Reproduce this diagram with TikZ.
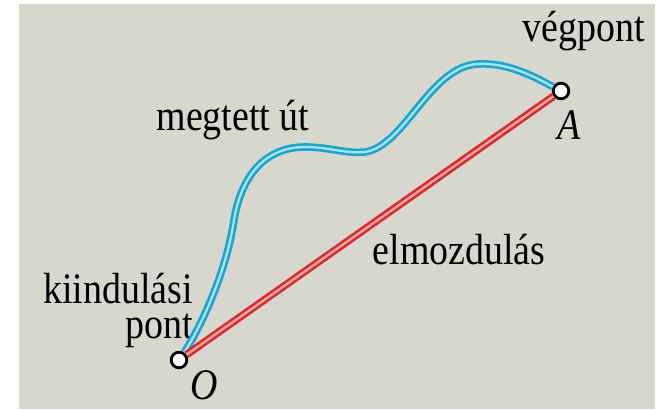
\documentclass[tikz,border=0pt]{standalone}
\usepackage{fontspec}
\setmainfont[FakeStretch=0.87]{Liberation Serif}
\usetikzlibrary{
    arrows.meta,
    positioning
}
\definecolor{hatter}{RGB}{216,215,205}
\definecolor{utkek}{RGB}{30,165,205}
\definecolor{utvilagos}{RGB}{170,228,244}
\definecolor{elmpiros}{RGB}{214,44,56}
\definecolor{elmrozsa}{RGB}{246,170,152}
\tikzset{
    pontkor/.style={
        circle,
        draw=black,
        line width=2pt,
        fill=white,
        inner sep=0pt,
        minimum size=0.39cm
    },
    felirat/.style={
        font=\fontsize{31}{25}\selectfont,
        inner sep=0pt
    },
    betu/.style={
        font=\fontsize{31}{31}\selectfont\itshape,
        inner sep=0pt
    }
}

\begin{document}
\begin{tikzpicture}[
    x=0.025cm,
    y=-0.025cm,
    utvonal/.style={
        draw=utkek,
        double=utvilagos,
        line width=1.9pt,
        double distance=1.6pt
    },
    elmozdulas/.style={
        draw=elmpiros,
        double=elmrozsa,
        line width=1.9pt,
        double distance=1.6pt
    }
]

\useasboundingbox (0,0) rectangle (662,411);
\fill[hatter] (19,4) rectangle (655,409);

\node[pontkor] (O) at (179,360) {};
\node[pontkor] (A) at (561,91) {};

\node[felirat, anchor=base] (vegpont) at (584,42) {végpont};
\node[felirat, anchor=base] (megtett) at (233,131) {megtett út};
\node[felirat, anchor=base] (elmozd) at (459,265) {elmozdulás};
\node[felirat, anchor=base east, align=right] (kiind) at (193,339) {kiindulási\\pont};
\node[betu, anchor=base] (Ocimke) at (204,399) {O};
\node[betu, anchor=base] (Acimke) at (569,140) {A};

\draw[utvonal] (O) .. controls (198,332) and (226,275) .. (234,220)
    .. controls (242,172) and (268,147) .. (305,147)
    .. controls (330,147) and (345,154) .. (365,152)
    .. controls (405,146) and (430,66) .. (478,64)
    .. controls (510,62) and (540,80) .. (A);
\draw[elmozdulas] (O) -- (A);

\end{tikzpicture}
\end{document}
